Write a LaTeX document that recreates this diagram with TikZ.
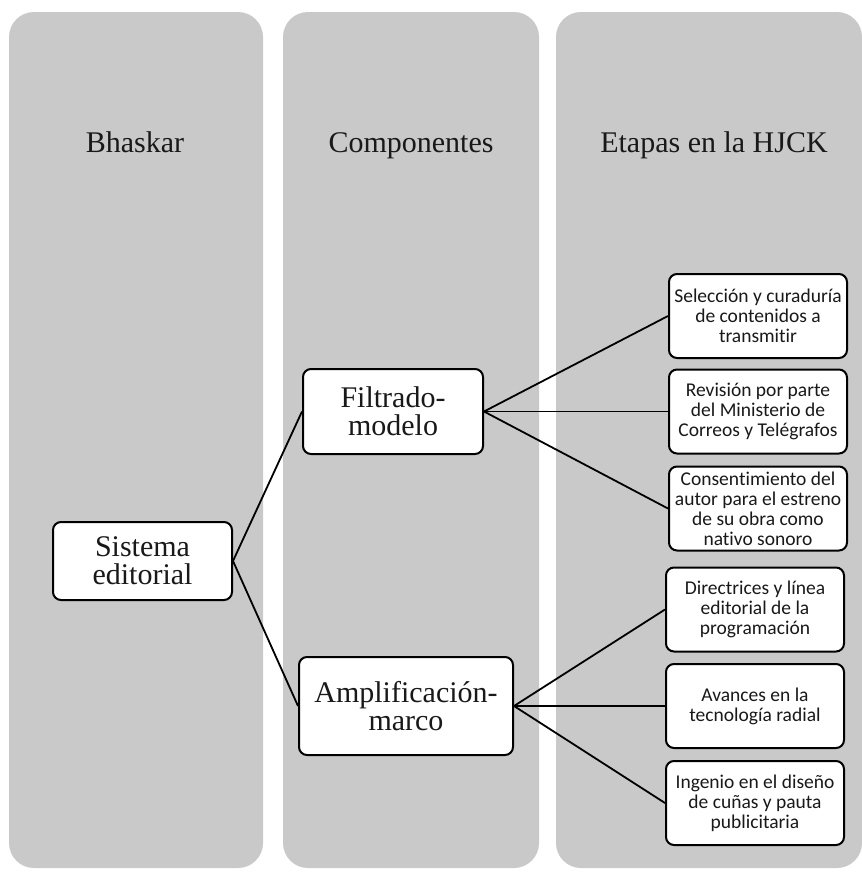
\documentclass[tikz,border=0pt]{standalone}
\usepackage{fontspec}
\setmainfont{Liberation Serif}
\newfontfamily\boxfont[RawFeature={-liga}]{Carlito}
\definecolor{panelgray}{RGB}{201,201,201}
\definecolor{inkgray}{RGB}{25,25,25}
\begin{document}
\begin{tikzpicture}[x=1pt,y=-1pt,
  panel/.style={fill=panelgray, draw=none, rounded corners=25pt},
  head/.style={font=\fontsize{30}{36}\selectfont, text=inkgray, anchor=base},
  mainbox/.style={draw=black, line width=2pt, fill=white, rounded corners=8pt, align=center, inner sep=0pt, text=inkgray, font=\fontsize{30}{28}\selectfont},
  stagebox/.style={draw=black, line width=2pt, fill=white, rounded corners=8pt, align=center, inner sep=0pt, text=inkgray, minimum width=178pt, minimum height=84pt, font=\boxfont\fontsize{19.5}{20}\selectfont},
  link/.style={line width=1.8pt, draw=black}]
\useasboundingbox (0,0) rectangle (862,873);
\fill[white] (0,0) rectangle (862,873);
% panels
\fill[panel] (9,12) rectangle (263,868);
\fill[panel] (283,12) rectangle (539,868);
\fill[panel] (556,12) rectangle (862,868);
% headers
\node[head] (h1) at (135,152) {Bhaskar};
\node[head] (h2) at (411,152) {Componentes};
\node[head] (h3) at (714,152) {Etapas en la HJCK};
% main boxes
\node[mainbox, minimum width=179pt, minimum height=78pt] (sis) at (142.5,561) {Sistema\\editorial};
\node[mainbox, minimum width=180pt, minimum height=85pt] (fil) at (393,411.5) {Filtrado-\\modelo};
\node[mainbox, minimum width=214pt, minimum height=98pt] (amp) at (406,706) {Amplificación-\\marco};
% stage boxes
\node[stagebox] (s1) at (758,316) {Selección y curaduría\\de contenidos a\\transmitir};
\node[stagebox] (s2) at (758,411.5) {Revisión por parte\\del Ministerio de\\Correos y Telégrafos};
\node[stagebox] (s3) at (758,508.5) {Consentimiento del\\autor para el estreno\\de su obra como\\nativo sonoro};
\node[stagebox] (s4) at (755,609.5) {Directrices y línea\\editorial de la\\programación};
\node[stagebox] (s5) at (755,706) {Avances en la\\tecnología radial};
\node[stagebox] (s6) at (755,803) {Ingenio en el diseño\\de cuñas y pauta\\publicitaria};
% connectors
\draw[link] (sis.east) -- (fil.west);
\draw[link] (sis.east) -- (amp.west);
\draw[link] (fil.east) -- (s1.west);
\draw[link] (fil.east) -- (s2.west);
\draw[link] (fil.east) -- (s3.west);
\draw[link] (amp.east) -- (s4.west);
\draw[link] (amp.east) -- (s5.west);
\draw[link] (amp.east) -- (s6.west);
\end{tikzpicture}
\end{document}
